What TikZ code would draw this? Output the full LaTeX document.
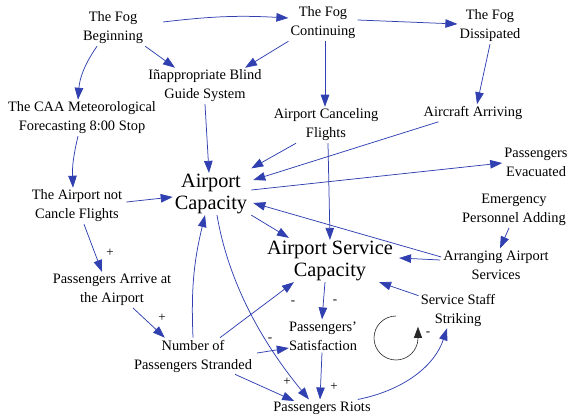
\documentclass[tikz,border=0pt]{standalone}
\usepackage{fontspec}
\setmainfont{Liberation Serif}[Ligatures=ResetAll]
\usetikzlibrary{arrows.meta}
\definecolor{linkblue}{RGB}{48,64,176}
\definecolor{loopgray}{RGB}{40,40,40}
\begin{document}
\begin{tikzpicture}[x=1pt,y=-1pt,
  lbl/.style={font=\fontsize{14.4}{19}\selectfont, align=center, inner sep=2pt},
  big/.style={font=\fontsize{20.3}{22}\selectfont, align=center, inner sep=1pt},
  link/.style={draw=linkblue, line width=0.75pt, -{Triangle[length=12pt,width=8.5pt]}},
  pol/.style={font=\fontsize{13}{13}\selectfont, inner sep=0pt}]
\useasboundingbox (0,0) rectangle (570,419);

% variables
\node[lbl] (fogb)   at (113,28)  {The Fog\\Beginning};
\node[lbl] (fogc)   at (323,23)  {The Fog\\Continuing};
\node[lbl] (fogd)   at (490,26)  {The Fog\\Dissipated};
\node[lbl] (inapp)  at (205,86)  {Iñappropriate Blind\\Guide System};
\node[lbl] (caa)    at (82,118)  {The CAA Meteorological\\Forecasting 8:00 Stop};
\node[lbl] (cancel) at (326,125) {Airport Canceling\\Flights};
\node[lbl] (arriv)  at (473,113) {Aircraft Arriving};
\node[big] (cap)    at (211,194) {Airport\\Capacity};
\node[lbl] (notc)   at (77,206)  {The Airport not\\Cancle Flights};
\node[lbl] (evac)   at (536,162) {Passengers\\Evacuated};
\node[lbl] (emerg)  at (514,210) {Emergency\\Personnel Adding};
\node[big] (svc)    at (330,261) {Airport Service\\Capacity};
\node[lbl] (arr)    at (496,265) {Arranging Airport\\Services};
\node[lbl] (staff)  at (458,310) {Service Staff\\Striking};
\node[lbl] (arrive) at (112,290) {Passengers Arrive at\\the Airport};
\node[lbl] (strand) at (193,356) {Number of\\Passengers Stranded};
\node[lbl] (sat)    at (323,336) {Passengers'\\Satisfaction};
\node[lbl] (riots)  at (322,408) {Passengers Riots};

% causal links
\draw[link] ([shift={(18pt,6pt)}]fogb.east) to[bend left=5] ([yshift=5pt]fogc.west);
\draw[link] (fogb.south east) -- ([xshift=-30pt]inapp.north);
\draw[link] ([xshift=-16pt]fogb.south) to[bend right=15] ([xshift=-4pt]caa.north);
\draw[link] (fogc.south west) -- ([xshift=40pt]inapp.north);
\draw[link] ([yshift=3pt]fogc.east) -- ([yshift=2pt]fogd.west);
\draw[link] ([xshift=2pt]fogc.south) -- ([xshift=-1pt]cancel.north);
\draw[link] (fogd.south) -- ([xshift=4pt]arriv.north);
\draw[link] ([xshift=-4pt]caa.south) to[bend right=8] ([xshift=-4pt]notc.north);
\draw[link] (inapp.south) -- ([xshift=-2pt]cap.north);
\draw[link] ([xshift=-30pt]cancel.south) -- ([shift={(3pt,4.5pt)}]cap.north east);
\draw[link] ([xshift=17pt]arriv.south west) -- ([shift={(5pt,14pt)}]cap.east);
\draw[link] ([shift={(3pt,4pt)}]cap.east) -- ([yshift=-1pt]evac.west);
\draw[link] ([shift={(2pt,4pt)}]notc.east) -- ([shift={(-1pt,-3pt)}]cap.west);
\draw[link] ([xshift=7pt]notc.south) -- ([xshift=-10pt]arrive.north);
\draw[link] ([xshift=2pt]cancel.south) -- (svc.north);
\draw[link] ([xshift=3pt]cap.south east) -- ([shift={(23pt,2pt)}]svc.north west);
\draw[link] ([yshift=8pt]arr.west) -- ([shift={(5pt,-9pt)}]cap.east);
\draw[link] ([shift={(-1pt,5pt)}]arr.west) -- ([shift={(5pt,3pt)}]svc.east);
\draw[link] ([xshift=-5pt]emerg.south) -- ([xshift=4pt]arr.north);
\draw[link] ([yshift=-4pt]staff.north west) -- ([xshift=-15pt]svc.south east);
\draw[link] ([xshift=-5pt]svc.south) -- ([xshift=-1pt]sat.north);
\draw[link] ([xshift=27pt]strand.north) -- ([xshift=28pt]svc.south west);
\draw[link] (strand.north) to[bend left=8] ([xshift=-6pt]cap.south);
\draw[link] ([xshift=6pt]cap.south) .. controls (228,280) and (260,340) .. ([xshift=-13pt]riots.north);
\draw[link] ([shift={(3pt,3pt)}]strand.east) -- ([shift={(2pt,-12pt)}]sat.west);
\draw[link] ([xshift=42pt]strand.south) -- ([shift={(23pt,-1.5pt)}]riots.north west);
\draw[link] ([xshift=-1pt]sat.south) -- ([xshift=-2pt]riots.north);
\draw[link] ([xshift=-15pt]riots.north east) .. controls (405,390) and (435,365) .. ([xshift=-11pt]staff.south);
\draw[link] ([xshift=21pt]arrive.south) -- ([xshift=33pt]strand.north west);

% polarities
\node[pol] (p1) at (110,253) {+};
\node[pol] (p2) at (162,318) {+};
\node[pol] (p3) at (293,303) {-};
\node[pol] (p4) at (335,302) {-};
\node[pol] (p5) at (270,340) {-};
\node[pol] (p6) at (287,382) {+};
\node[pol] (p7) at (334,387) {+};

% balancing loop marker
\coordinate (loopc) at (396,338);
\draw[loopgray, line width=0.6pt, -{Triangle[length=11pt,width=8pt]}]
  ([yshift=22pt]loopc) arc[start angle=90, end angle=358, radius=22pt] -- ++(0pt,12pt);
\node[pol] (lpol) at (428,334) {-};
\end{tikzpicture}
\end{document}
